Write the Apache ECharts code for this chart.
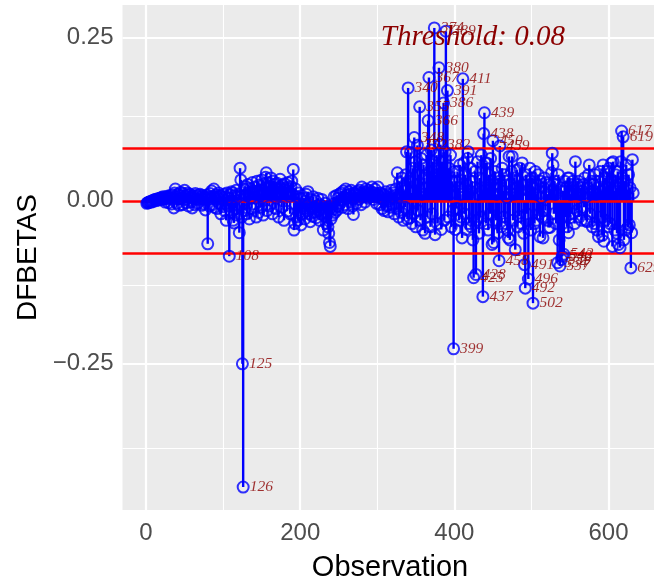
<!DOCTYPE html>
<html><head><meta charset="utf-8">
<script src="https://cdn.jsdelivr.net/npm/echarts@6/dist/echarts.min.js"></script>
<style>html,body{margin:0;padding:0;background:#fff}#c{width:654px;height:577px}</style>
</head><body><div id="c"></div>
<script>
const obs001_100 = [
-0.004,-0.003,-0.003,-0.002,-0.002,-0.001,-0.002,0.000,-0.001,0.001,
0.001,0.002,0.000,0.002,0.003,0.001,0.003,0.004,0.002,0.005,
0.003,0.006,0.002,0.004,-0.002,0.005,0.007,0.003,-0.003,0.006,
0.008,0.004,-0.005,0.009,0.002,-0.011,0.012,0.018,0.006,-0.004,
0.010,0.003,-0.007,0.008,0.013,0.004,-0.006,0.011,0.002,0.016,
0.007,-0.003,0.009,0.012,-0.008,0.005,0.010,-0.002,0.006,-0.011,
0.008,0.004,-0.006,0.011,0.003,0.007,-0.004,0.009,0.002,0.010,
0.005,-0.007,0.008,0.003,-0.005,0.006,-0.014,0.004,0.009,-0.066,
0.006,-0.008,0.011,0.003,0.015,-0.006,0.007,0.018,-0.010,0.004,
0.009,-0.012,0.005,0.012,-0.004,0.008,-0.020,0.006,0.003,-0.009];
const obs101_200 = [
0.010,-0.015,0.006,-0.030,0.012,-0.008,0.004,-0.085,0.009,-0.018,
0.014,0.012,-0.030,-0.034,0.008,-0.012,0.016,-0.022,0.006,0.010,
-0.049,0.050,0.032,-0.025,-0.250,-0.439,0.018,-0.015,0.022,0.008,
-0.020,0.025,0.012,-0.028,0.019,0.004,-0.012,0.028,0.015,-0.005,
0.021,0.010,-0.025,0.030,0.014,-0.018,0.024,0.008,-0.010,0.032,
0.017,-0.022,0.026,0.012,0.036,0.043,-0.015,0.020,0.028,-0.008,
0.022,0.035,0.010,-0.020,0.030,0.016,0.025,-0.012,0.019,0.027,
0.008,-0.025,0.021,0.033,0.014,-0.010,0.024,0.018,-0.030,0.026,
0.012,0.020,-0.016,0.028,0.015,0.007,-0.020,0.022,0.030,0.010,
0.048,-0.045,-0.035,0.018,-0.025,0.006,-0.030,0.012,-0.018,0.004];
const obs201_300 = [
-0.037,0.008,-0.020,-0.012,0.004,-0.028,-0.008,0.010,-0.015,0.014,
-0.005,-0.020,-0.032,0.002,-0.012,-0.024,0.006,-0.010,-0.018,0.000,
-0.026,-0.008,0.004,-0.015,-0.030,-0.006,-0.020,0.002,-0.012,-0.045,
-0.018,-0.004,-0.025,-0.035,-0.010,-0.040,-0.050,-0.064,-0.070,-0.028,
-0.015,-0.022,-0.005,0.006,-0.018,-0.010,0.008,-0.014,0.004,-0.008,
0.010,-0.004,0.012,0.002,-0.010,0.015,0.006,-0.006,0.018,0.004,
0.008,-0.012,0.014,0.010,-0.002,0.016,0.006,-0.008,-0.021,0.012,
0.004,0.010,-0.004,0.014,0.008,0.002,0.016,0.012,-0.006,0.021,
0.010,0.006,0.014,-0.002,0.018,0.008,0.012,0.004,0.016,0.010,
0.006,0.014,0.021,0.008,0.002,0.012,0.018,0.006,-0.004,0.010];
const obs301_400 = [
0.021,0.008,-0.006,0.012,0.004,-0.012,0.010,0.002,-0.015,0.008,
0.014,-0.008,0.006,-0.017,0.010,0.003,-0.010,0.016,0.005,-0.006,
0.012,-0.020,0.008,0.018,-0.012,0.043,0.006,-0.025,0.029,0.010,
-0.018,0.035,0.022,-0.030,0.015,-0.010,0.040,0.075,-0.028,0.173,
0.030,-0.026,0.074,0.012,-0.035,0.050,-0.020,0.097,0.060,-0.040,
0.025,0.085,-0.015,0.040,0.144,-0.030,0.065,0.010,-0.045,0.055,
0.035,-0.050,0.020,0.070,-0.025,0.123,0.189,0.045,-0.040,0.078,
-0.020,0.060,0.030,0.265,-0.052,0.040,0.070,-0.035,0.050,0.204,
0.025,0.086,-0.044,0.060,0.015,0.150,-0.030,0.075,0.260,0.035,
0.169,-0.025,0.050,0.010,0.070,-0.040,0.030,-0.015,-0.227,0.045];
const obs401_500 = [
-0.044,0.030,-0.012,0.045,0.020,-0.030,0.055,0.010,-0.025,-0.057,
0.187,0.058,-0.020,0.040,-0.044,0.025,0.065,0.075,-0.035,0.015,
0.050,-0.040,0.030,-0.060,-0.118,0.020,0.045,-0.113,-0.030,0.060,
0.010,-0.050,0.035,-0.025,0.070,0.015,-0.147,0.103,0.135,0.058,
-0.035,0.058,0.020,-0.045,0.040,-0.020,0.065,0.030,-0.067,0.092,
-0.064,0.025,0.045,-0.030,0.010,-0.050,0.035,-0.092,0.084,0.020,
-0.040,0.050,0.015,-0.025,0.040,-0.035,0.030,0.005,-0.045,-0.057,
0.068,-0.060,0.025,0.045,0.068,-0.030,0.010,0.035,-0.075,0.020,
0.047,-0.040,0.030,-0.024,0.050,0.015,-0.035,0.058,0.025,-0.050,
-0.098,-0.134,0.040,-0.020,0.030,-0.120,0.015,0.050,-0.045,0.025];
const obs501_600 = [
0.035,-0.157,0.020,-0.035,0.045,0.010,-0.030,0.025,0.040,-0.020,
-0.055,0.030,0.005,-0.025,-0.057,0.020,0.035,-0.015,0.028,0.010,
-0.030,-0.041,0.025,-0.041,0.015,0.043,0.073,0.055,-0.020,0.030,
0.010,-0.035,0.025,-0.095,0.040,-0.060,-0.100,0.020,-0.090,-0.085,
0.015,-0.082,0.030,-0.025,0.020,-0.040,0.035,-0.049,0.035,-0.026,
0.010,0.025,-0.020,0.030,0.015,-0.035,0.060,0.020,-0.015,0.025,
0.030,-0.025,0.010,0.020,-0.030,0.015,0.025,-0.010,0.035,0.005,
-0.030,-0.032,0.020,0.040,0.055,-0.020,0.010,0.030,-0.040,0.015,
0.025,-0.035,0.040,0.010,-0.045,0.020,-0.055,0.030,0.045,-0.025,
0.015,-0.053,0.055,-0.062,0.035,-0.030,0.020,0.045,-0.040,0.025];
const obs601_632 = [
0.050,-0.035,0.030,0.058,-0.070,0.060,0.015,-0.045,0.040,0.020,
-0.050,0.045,-0.067,0.025,-0.072,0.060,0.107,0.035,0.098,-0.060,
0.030,-0.045,0.055,0.017,-0.041,0.040,-0.037,0.020,-0.103,-0.049,
0.063,0.012];

const threshold = 0.08;
const xTickValues = [0, 200, 400, 600];
const xMinorValues = [100, 300, 500];
const yTickValues = [-0.25, 0, 0.25];
const yMinorValues = [-0.375, -0.125, 0.125];

const dfbetas = [].concat(obs001_100, obs101_200, obs201_300, obs301_400, obs401_500, obs501_600, obs601_632);
const n = dfbetas.length;
const pts = dfbetas.map((v, i) => [i + 1, v]);
const xPad = (n - 1) * 0.05;
const yHi = Math.max(...dfbetas), yLo = Math.min(...dfbetas);
const yPad = (yHi - yLo) * 0.05;

const blue = '#0000FF';
const darkred = '#8B0000';
const sans = 'Liberation Sans, Arial, sans-serif';
const serif = 'Liberation Serif, Times New Roman, serif';

const gridLines = [];
xTickValues.forEach(v => gridLines.push({xAxis: v, lineStyle: {width: 2.2}}));
xMinorValues.forEach(v => gridLines.push({xAxis: v, lineStyle: {width: 1.1}}));
yTickValues.forEach(v => gridLines.push({yAxis: v, lineStyle: {width: 2.2}}));
yMinorValues.forEach(v => gridLines.push({yAxis: v, lineStyle: {width: 1.1}}));

const scatterData = pts.map(p => {
  if (Math.abs(p[1]) > threshold) {
    return {value: p, label: {show: true, formatter: String(p[0])}};
  }
  return {value: p};
});

const chart = echarts.init(document.getElementById('c'), null, {renderer: 'canvas'});
chart.setOption({
  animation: false,
  backgroundColor: '#FFFFFF',
  grid: {left: 122.5, top: 5, width: 535, height: 505, show: true, backgroundColor: '#EBEBEB', borderWidth: 0,
    containLabel: false, outerBoundsMode: 'none'},
  xAxis: {
    type: 'value', min: 1 - xPad, max: n + xPad,
    name: 'Observation', nameLocation: 'middle', nameGap: 43,
    nameTextStyle: {fontFamily: sans, fontSize: 29, color: '#000000'},
    axisLine: {show: false},
    axisTick: {show: true, length: 5, lineStyle: {color: '#333333', width: 2}, customValues: xTickValues},
    axisLabel: {show: true, customValues: xTickValues, fontFamily: sans, fontSize: 24, color: '#4D4D4D', margin: 11},
    splitLine: {show: false}
  },
  yAxis: {
    type: 'value', min: yLo - yPad, max: yHi + yPad,
    name: 'DFBETAS', nameLocation: 'middle', nameGap: 59, nameRotate: 90,
    nameTextStyle: {fontFamily: sans, fontSize: 28, color: '#000000'},
    axisLine: {show: false},
    axisTick: {show: true, length: 5, lineStyle: {color: '#333333', width: 2}, customValues: yTickValues},
    axisLabel: {show: true, customValues: yTickValues, fontFamily: sans, fontSize: 24, color: '#4D4D4D', margin: 9,
      formatter: v => (v < 0 ? '\u2212' : '') + Math.abs(v).toFixed(2)},
    splitLine: {show: false}
  },
  series: [
    {
      type: 'line', data: [], z: 1, silent: true,
      markLine: {z: 1, silent: true, symbol: ['none', 'none'], label: {show: false},
        lineStyle: {color: '#FFFFFF', type: 'solid'}, data: gridLines}
    },
    {
      type: 'custom', z: 2, silent: true, data: pts,
      renderItem: (params, api) => {
        const x = api.value(0), v = api.value(1);
        const a = api.coord([x, 0]), b = api.coord([x, v]);
        return {type: 'line', shape: {x1: a[0], y1: a[1], x2: b[0], y2: b[1]},
          style: {stroke: blue, lineWidth: 2.4, fill: null}};
      }
    },
    {
      type: 'line', data: [], z: 3, silent: true,
      markLine: {z: 3, silent: true, symbol: ['none', 'none'], label: {show: false},
        lineStyle: {color: '#FF0000', type: 'solid', width: 2.6},
        data: [{yAxis: 0}, {yAxis: threshold}, {yAxis: -threshold}]}
    },
    {
      type: 'scatter', z: 4, silent: true, data: scatterData,
      symbol: 'circle', symbolSize: 11,
      itemStyle: {color: 'rgba(0,0,0,0)', borderColor: blue, borderWidth: 2},
      label: {show: false, position: 'right', distance: 0, fontFamily: serif, fontStyle: 'italic',
        fontSize: 15.5, color: darkred}
    }
  ],
  graphic: [{
    type: 'text', z: 100, x: 565, y: 37,
    style: {text: 'Threshold: ' + threshold, fill: darkred, fontFamily: serif, fontStyle: 'italic',
      fontSize: 29, textAlign: 'right', textVerticalAlign: 'middle'}
  }]
});
</script></body></html>
